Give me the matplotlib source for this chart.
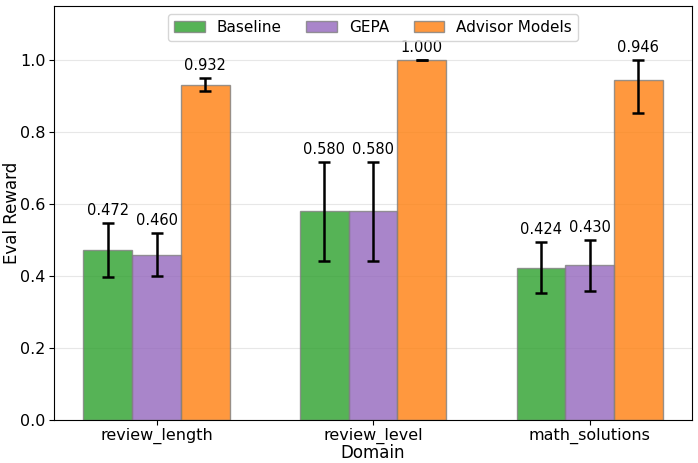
import numpy as np
import matplotlib
matplotlib.use("Agg")
import matplotlib.pyplot as plt

# datos
dominios = ["review_length", "review_level", "math_solutions"]
series = ["Baseline", "GEPA", "Advisor Models"]
baseline = [0.472, 0.580, 0.424]
gepa = [0.460, 0.580, 0.430]
advisor = [0.932, 1.000, 0.946]
baseline_err = [0.075, 0.138, 0.070]
gepa_err = [0.060, 0.138, 0.070]
advisor_err_low = [0.018, 0.0, 0.092]
advisor_err_high = [0.018, 0.0, 0.054]

colores = ["tab:green", "tab:purple", "tab:orange"]

fig, ax = plt.subplots(figsize=(6.98, 4.63), dpi=100)
fig.subplots_adjust(left=0.078, right=0.991, top=0.987, bottom=0.092)

x = np.arange(len(dominios))
w = 0.225

valores = [baseline, gepa, advisor]
errores = [baseline_err, gepa_err, [advisor_err_low, advisor_err_high]]

for i, (nombre, vals, err, col) in enumerate(zip(series, valores, errores, colores)):
    pos = x + (i - 1) * w
    ax.bar(pos, vals, w, yerr=err, label=nombre, color=col, alpha=0.8,
           edgecolor="gray", linewidth=1, capsize=4,
           error_kw=dict(ecolor="black", elinewidth=1.8, capthick=1.8))
    err_arr = np.array(err)
    top = err_arr[1] if err_arr.ndim == 2 else err_arr
    for p, v, t in zip(pos, vals, top):
        ax.text(p, v + t + 0.014, f"{v:.3f}", ha="center", va="bottom", fontsize=10.5)

ax.set_xticks(x)
ax.set_xticklabels(dominios, fontsize=11.5)
ax.tick_params(axis="y", labelsize=11.5, pad=3)
ax.tick_params(axis="x", pad=2)
ax.set_xlabel("Domain", fontsize=12, labelpad=0)
ax.set_ylabel("Eval Reward", fontsize=12)
ax.yaxis.set_label_coords(-0.052, 0.5)
ax.set_ylim(0, 1.15)
ax.grid(axis="y", alpha=0.3)
ax.set_axisbelow(True)
ax.legend(loc="upper center", ncol=3, fontsize=11, columnspacing=1.6)

plt.savefig("out.png", dpi=100)
